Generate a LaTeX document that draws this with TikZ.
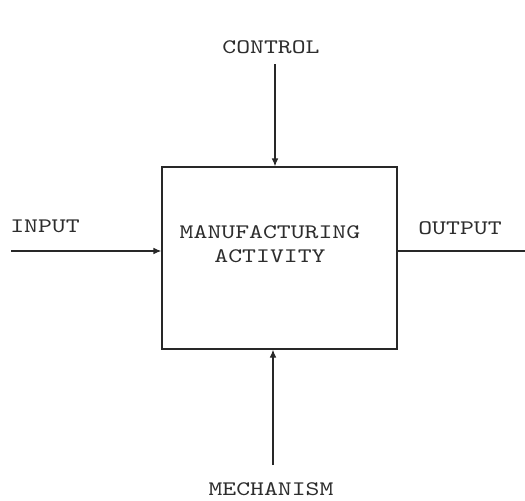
\documentclass[tikz,border=0pt]{standalone}
\usepackage{fontspec}
\setmonofont[FakeStretch=1.28]{lmmono10-regular.otf}
\usepackage{tikz}
\usepackage{xcolor}
\usetikzlibrary{arrows.meta}

\begin{document}
\begin{tikzpicture}[x=0.75pt,y=0.75pt,yscale=-1,xscale=1,
	lbl/.style={inner sep=0.75pt,text={rgb,255:red,45;green,45;blue,45},font=\ttfamily\fontsize{15.5pt}{18pt}\selectfont},
	wire/.style={color={rgb,255:red,40;green,40;blue,40},line width=0.9pt},
	feed/.style={wire,-{Latex[length=6pt,width=5pt]}}]
	%set diagram to 525 x 500
	\useasboundingbox (0,0) rectangle (525,500);

	%Shape: Rectangle [id:actbox]
	\node [wire,draw,inner sep=0pt,minimum width=176.25pt,minimum height=136.5pt] (act) at (279.5,258) {};

	%Free ends of the lines
	\coordinate (ctl) at (275,64);
	\coordinate (inp) at (11,251);
	\coordinate (outp) at (525,251);
	\coordinate (mech) at (273,465);

	%Straight Lines
	\draw [feed] (ctl) -- (ctl |- act.north);
	\draw [feed] (inp) -- (inp -| act.west);
	\draw [wire] (outp -| act.east) -- (outp);
	\draw [feed] (mech) -- (mech |- act.south);

	% Text Node
	\node [lbl] (ctltxt) at (271,47) {CONTROL};
	% Text Node
	\node [lbl] (inptxt) at (45,226) {INPUT};
	% Text Node
	\node [lbl] (outptxt) at (460,228) {OUTPUT};
	% Text Node
	\node [lbl] (mechtxt) at (271,489) {MECHANISM};
	% Text Node
	\node [lbl,align=center] (acttxt) at (270,244.5) {MANUFACTURING\\ACTIVITY};

\end{tikzpicture}
\end{document}
